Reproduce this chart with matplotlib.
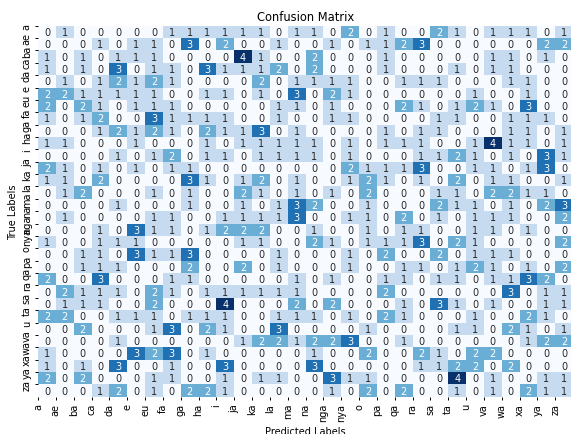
# Confusion matrix heatmap for the syllable classifier

import numpy as np
import matplotlib
matplotlib.use("Agg")
import matplotlib.pyplot as plt
import seaborn as sns


LABELS = ["a", "ae", "ba", "ca", "da", "e", "eu", "fa", "ga", "ha",
          "i", "ja", "ka", "la", "ma", "na", "nga", "nya", "o", "pa",
          "qa", "ra", "sa", "ta", "u", "va", "wa", "xa", "ya", "za"]

# One list per true label (counts per predicted label)
row_a = [0, 1, 0, 0, 0, 0, 0, 1, 1, 1, 1, 1, 1, 0, 1, 1, 0, 2, 0, 1, 0, 0, 2, 1, 0, 1, 1, 1, 0, 1]
row_ae = [0, 0, 0, 1, 0, 1, 1, 0, 3, 0, 2, 0, 0, 1, 0, 0, 1, 0, 1, 1, 2, 3, 0, 0, 0, 0, 0, 0, 2, 2]
row_ba = [1, 0, 1, 0, 1, 1, 1, 0, 0, 0, 0, 4, 1, 0, 0, 2, 0, 0, 0, 1, 0, 0, 0, 0, 0, 1, 1, 0, 1, 0]
row_ca = [1, 0, 1, 0, 3, 0, 1, 1, 0, 3, 1, 1, 1, 2, 0, 2, 0, 0, 0, 1, 0, 0, 0, 1, 0, 1, 1, 0, 0, 0]
row_da = [0, 1, 0, 1, 2, 1, 2, 1, 0, 0, 0, 0, 2, 0, 1, 1, 1, 1, 0, 0, 1, 1, 1, 0, 0, 0, 1, 1, 0, 0]
row_e = [2, 2, 1, 1, 1, 1, 1, 0, 0, 1, 1, 0, 1, 0, 3, 0, 2, 1, 0, 0, 0, 0, 0, 0, 1, 0, 0, 1, 0, 0]
row_eu = [2, 0, 2, 1, 0, 1, 1, 1, 0, 0, 0, 0, 0, 1, 1, 0, 1, 0, 0, 0, 2, 1, 0, 1, 2, 1, 0, 3, 0, 0]
row_fa = [1, 0, 1, 2, 0, 0, 3, 1, 1, 1, 1, 0, 0, 1, 0, 0, 1, 1, 0, 0, 0, 0, 1, 1, 0, 0, 1, 1, 1, 0]
row_ga = [0, 0, 0, 1, 2, 1, 2, 1, 0, 2, 1, 1, 3, 0, 1, 0, 0, 0, 0, 1, 0, 1, 1, 0, 0, 0, 1, 1, 0, 1]
row_ha = [1, 1, 0, 0, 0, 1, 0, 0, 0, 1, 0, 1, 1, 1, 1, 1, 0, 1, 0, 1, 1, 1, 0, 0, 1, 4, 1, 1, 0, 1]
row_i = [0, 0, 0, 0, 1, 0, 1, 2, 0, 1, 1, 0, 1, 1, 1, 1, 0, 1, 0, 0, 0, 1, 1, 2, 1, 0, 1, 0, 3, 1]
row_ja = [2, 1, 0, 1, 0, 1, 0, 1, 1, 0, 0, 0, 0, 0, 0, 0, 0, 2, 1, 1, 1, 3, 0, 0, 1, 1, 0, 1, 3, 0]
row_ka = [1, 1, 0, 2, 0, 0, 0, 0, 3, 1, 0, 1, 2, 0, 1, 0, 0, 1, 2, 1, 0, 1, 0, 2, 0, 1, 1, 0, 0, 1]
row_la = [0, 1, 2, 0, 0, 0, 1, 0, 1, 0, 0, 2, 1, 0, 1, 0, 1, 0, 2, 0, 0, 0, 1, 1, 0, 2, 2, 1, 1, 0]
row_ma = [0, 0, 0, 0, 1, 0, 0, 0, 1, 0, 0, 1, 0, 1, 3, 2, 0, 0, 1, 0, 0, 0, 2, 1, 1, 0, 1, 0, 2, 3]
row_na = [0, 1, 0, 0, 0, 0, 1, 1, 0, 0, 1, 1, 1, 1, 3, 0, 0, 1, 1, 0, 2, 0, 1, 0, 1, 1, 1, 0, 0, 2]
row_nga = [0, 0, 0, 1, 0, 3, 1, 1, 0, 1, 2, 2, 2, 0, 0, 1, 0, 0, 1, 0, 1, 1, 0, 0, 1, 1, 0, 1, 0, 0]
row_nya = [1, 0, 0, 1, 1, 1, 0, 0, 0, 0, 0, 1, 1, 0, 0, 2, 1, 0, 1, 1, 1, 3, 0, 2, 1, 0, 0, 0, 0, 2]
row_o = [0, 0, 1, 1, 0, 3, 1, 1, 3, 0, 0, 0, 0, 1, 0, 0, 0, 1, 0, 2, 0, 0, 2, 0, 1, 1, 1, 0, 0, 0]
row_pa = [0, 0, 1, 1, 1, 0, 0, 0, 2, 0, 0, 2, 0, 1, 0, 0, 0, 1, 0, 0, 1, 1, 0, 1, 2, 1, 0, 1, 0, 2]
row_qa = [2, 0, 0, 3, 0, 0, 0, 1, 1, 0, 0, 0, 0, 0, 1, 0, 1, 0, 0, 1, 1, 0, 1, 1, 0, 1, 1, 3, 2, 0]
row_ra = [0, 2, 1, 1, 1, 0, 2, 1, 0, 1, 1, 1, 1, 1, 1, 0, 0, 0, 0, 2, 0, 0, 0, 0, 0, 0, 3, 0, 1, 1]
row_sa = [0, 1, 1, 1, 0, 0, 2, 0, 0, 0, 4, 0, 0, 0, 2, 0, 2, 0, 0, 0, 1, 0, 3, 1, 0, 1, 0, 0, 1, 1]
row_ta = [2, 2, 0, 0, 1, 1, 1, 0, 1, 1, 1, 0, 0, 1, 1, 1, 0, 1, 0, 2, 1, 0, 0, 0, 1, 0, 0, 2, 1, 0]
row_u = [0, 0, 2, 0, 0, 0, 1, 3, 0, 2, 1, 0, 0, 3, 0, 0, 0, 0, 1, 0, 0, 0, 0, 1, 1, 0, 2, 1, 0, 1]
row_va = [0, 0, 0, 0, 1, 0, 0, 0, 0, 0, 0, 1, 2, 2, 1, 2, 2, 3, 0, 0, 1, 0, 0, 0, 0, 0, 0, 1, 2, 2]
row_wa = [1, 0, 0, 0, 0, 3, 2, 3, 0, 1, 0, 0, 0, 0, 0, 1, 0, 0, 2, 0, 0, 2, 1, 0, 2, 2, 0, 0, 0, 0]
row_xa = [1, 0, 1, 0, 3, 0, 0, 1, 0, 0, 3, 0, 0, 0, 0, 3, 0, 0, 0, 0, 0, 1, 1, 2, 2, 0, 2, 0, 0, 0]
row_ya = [2, 0, 2, 0, 0, 0, 1, 1, 0, 0, 1, 0, 1, 1, 0, 0, 3, 1, 1, 0, 0, 0, 0, 4, 0, 1, 0, 0, 1, 1]
row_za = [0, 0, 0, 1, 2, 0, 1, 0, 2, 2, 1, 0, 0, 0, 0, 0, 1, 0, 2, 0, 2, 0, 0, 1, 0, 1, 0, 2, 1, 1]


cm = np.array([
    row_a, row_ae, row_ba, row_ca, row_da, row_e, row_eu, row_fa, row_ga, row_ha,
    row_i, row_ja, row_ka, row_la, row_ma, row_na, row_nga, row_nya, row_o, row_pa,
    row_qa, row_ra, row_sa, row_ta, row_u, row_va, row_wa, row_xa, row_ya, row_za
])


fig = plt.figure(figsize=(5.71, 4.35), dpi=100)
ax = fig.add_axes([0.0666, 0.0857, 0.937, 0.853])

sns.heatmap(
    cm,
    annot=True,
    fmt="d",
    cmap="Blues",
    cbar=False,
    vmin=0,
    vmax=4,
    annot_kws={"fontsize": 7},
    ax=ax
)

# ticks sit on integer positions (cell edges), as in the original
ax.set_xticks(np.arange(len(LABELS)))
ax.set_xticklabels(LABELS, rotation=90, fontsize=7)
ax.set_yticks(np.arange(len(LABELS)))
ax.set_yticklabels(LABELS, rotation=90, va="center", fontsize=7)
ax.tick_params(length=2.5, width=0.7, pad=2)

ax.set_title("Confusion Matrix", fontsize=8.3, pad=4)
ax.set_xlabel("Predicted Labels", fontsize=7, labelpad=3)
ax.set_ylabel("True Labels", fontsize=7, labelpad=3)

plt.savefig("out.png", dpi=100)
plt.close(fig)
